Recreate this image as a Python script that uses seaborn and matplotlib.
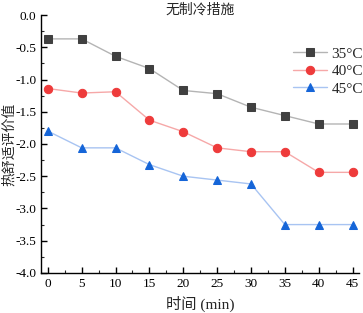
import matplotlib
matplotlib.use("Agg")
import matplotlib.pyplot as plt
import seaborn as sns
import pandas as pd
from matplotlib.ticker import MultipleLocator

# données
time_min = [0, 5, 10, 15, 20, 25, 30, 35, 40, 45]
t35 = [-0.37, -0.37, -0.64, -0.83, -1.17, -1.22, -1.43, -1.56, -1.69, -1.69]
t40 = [-1.14, -1.21, -1.19, -1.63, -1.81, -2.06, -2.12, -2.12, -2.44, -2.44]
t45 = [-1.80, -2.06, -2.06, -2.32, -2.50, -2.56, -2.62, -3.25, -3.25, -3.25]
labels = ["35°C", "40°C", "45°C"]

sns.set_style("ticks")
plt.rcParams['font.family'] = ['Liberation Serif', 'Noto Sans CJK SC']
plt.rcParams['xtick.direction'] = 'in'
plt.rcParams['ytick.direction'] = 'in'

fig = plt.figure(figsize=(3.63, 3.13), dpi=100)
ax = fig.add_axes([0.113, 0.128, 0.877, 0.824])

styles = [
    ("#b4b4b4", "#404040", "s"),
    ("#f6a8a8", "#ee3b3b", "o"),
    ("#a8c4f2", "#1565d8", "^"),
]
for vals, lab, (lc, mc, mk) in zip([t35, t40, t45], labels, styles):
    df = pd.DataFrame({"t": time_min, "v": vals})
    sns.lineplot(data=df, x="t", y="v", ax=ax, color=lc, linewidth=1.0,
                 marker=mk, markersize=6, markerfacecolor=mc,
                 markeredgecolor=mc, label=lab)

ax.set_xlim(-1, 46)
ax.set_ylim(-4, 0)
ax.xaxis.set_major_locator(MultipleLocator(5))
ax.xaxis.set_minor_locator(MultipleLocator(2.5))
ax.yaxis.set_major_locator(MultipleLocator(0.5))
ax.yaxis.set_minor_locator(MultipleLocator(0.25))
ax.yaxis.set_major_formatter(matplotlib.ticker.FormatStrFormatter('%.1f'))
ax.tick_params(which='major', length=4, width=1, labelsize=9.5, colors='black')
ax.tick_params(which='minor', length=2, width=0.8)
sns.despine(ax=ax)
for s in ['left', 'bottom']:
    ax.spines[s].set_color('black')
    ax.spines[s].set_linewidth(1.0)

ax.set_xlabel("时间 (min)", fontsize=11)
ax.set_ylabel("热舒适评价值", fontsize=10)
ax.yaxis.set_label_coords(-0.078, 0.5)
ax.text(0.5, 1.02, "无制冷措施", transform=ax.transAxes, ha='center',
        va='center', fontsize=10)

leg = ax.legend(loc='upper right', bbox_to_anchor=(1.03, 0.9), frameon=False,
                fontsize=11, handlelength=2.2, handletextpad=0.3,
                labelspacing=0.25, borderaxespad=0)

fig.savefig("out.png", dpi=100)
